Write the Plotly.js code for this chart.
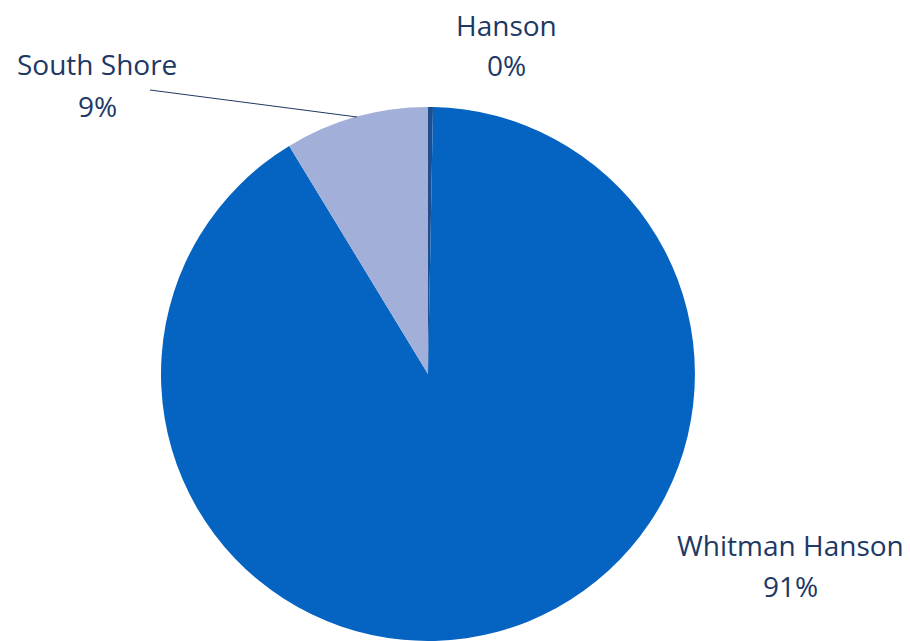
<!DOCTYPE html>
<html><head><meta charset="utf-8">
<script src="https://cdn.plot.ly/plotly-3.0.1.min.js"></script>
<style>html,body{margin:0;padding:0;background:#fff}</style>
</head><body><div id="chart" style="width:910px;height:641px"></div>
<script>
const labels = ["Hanson", "Whitman Hanson", "South Shore"];
const values = [0.3, 91.0, 8.7];
const colors = ["#1F4E8C", "#0563C1", "#A2AFD9"];

const total = values.reduce((a, b) => a + b, 0);
const pct = values.map(v => Math.round(v / total * 100) + "%");

// label block centres in pixels (x, y)
const labelPos = [[506, 45], [790, 565], [97, 85]];
const font = {family: "Open Sans, sans-serif", size: 28, color: "#203864"};
const W = 910, H = 641, half = 20.5;

const data = [{
  type: "pie",
  labels: labels,
  values: values,
  sort: false,
  direction: "clockwise",
  rotation: 0,
  marker: {colors: colors, line: {width: 0}},
  textinfo: "none",
  hoverinfo: "label+percent",
  showlegend: false,
  domain: {x: [0.1769, 0.7637], y: [0, 0.833]}
}];

const annotations = [];
labels.forEach((l, i) => {
  const [px, py] = labelPos[i];
  annotations.push({text: l, xref: "paper", yref: "paper", x: px / W, y: 1 - (py - half) / H,
    xanchor: "center", yanchor: "middle", showarrow: false, font: font});
  annotations.push({text: pct[i], xref: "paper", yref: "paper", x: px / W, y: 1 - (py + half) / H,
    xanchor: "center", yanchor: "middle", showarrow: false, font: font});
});

const layout = {
  width: W, height: H,
  margin: {l: 0, r: 0, t: 0, b: 0},
  paper_bgcolor: "#fff",
  showlegend: false,
  annotations: annotations,
  shapes: [{
    type: "line", xref: "paper", yref: "paper",
    x0: 150/W, y0: 1 - 90/H, x1: 357/W, y1: 1 - 117/H,
    line: {color: "#203864", width: 1}
  }]
};
Plotly.newPlot("chart", data, layout, {displayModeBar: false});
</script></body></html>
